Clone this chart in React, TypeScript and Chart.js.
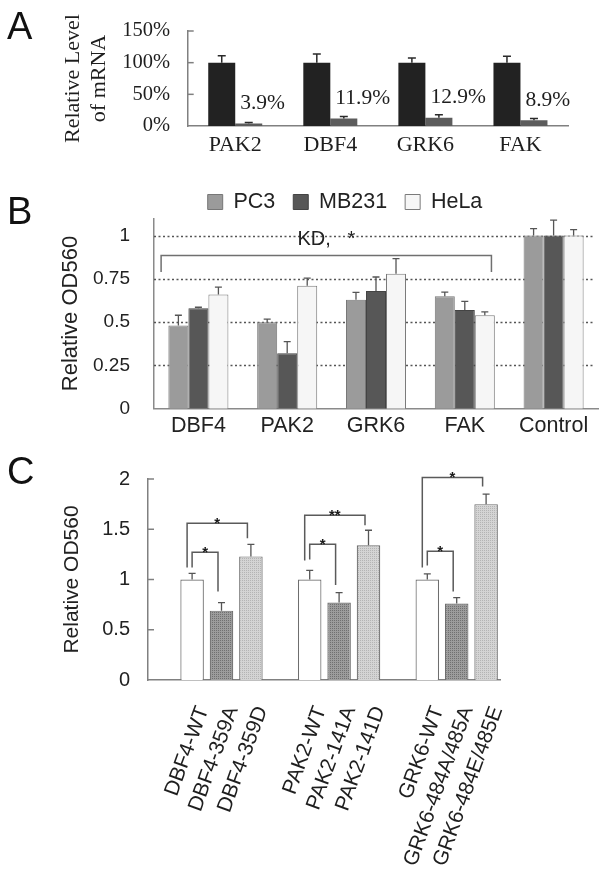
import React, { useEffect, useRef } from 'react';
import { Chart, registerables } from 'chart.js';

Chart.register(...registerables);

const SERIF = "'Liberation Serif', 'Times New Roman', serif";
const SANS = "'Liberation Sans', Arial, sans-serif";

// ---------- Panel A data ----------
const genesA = ['PAK2', 'DBF4', 'GRK6', 'FAK'];
const controlA = [100, 100, 100, 100];
const controlErrA = [11, 13.5, 7.3, 10];
const knockdownA = [3.9, 11.9, 12.9, 8.9];
const knockdownErrA = [1.5, 3, 4.8, 3];
const knockdownTextA = ['3.9%', '11.9%', '12.9%', '8.9%'];
const yTicksA = [0, 50, 100, 150];

// ---------- Panel B data ----------
const categoriesB = ['DBF4', 'PAK2', 'GRK6', 'FAK', 'Control'];
const pc3B = [0.48, 0.5, 0.63, 0.65, 1.0];
const pc3ErrB = [0.06, 0.017, 0.042, 0.023, 0.04];
const mb231B = [0.58, 0.32, 0.68, 0.57, 1.0];
const mb231ErrB = [0.006, 0.067, 0.081, 0.05, 0.09];
const helaB = [0.66, 0.71, 0.78, 0.54, 1.0];
const helaErrB = [0.042, 0.044, 0.087, 0.019, 0.035];
const yTicksB = [0, 0.25, 0.5, 0.75, 1];
const kdBracketB = { from: 'DBF4', to: 'FAK', level: 0.885, end: 0.79, label: 'KD,   *', labelAt: 0.977 };

// ---------- Panel C data ----------
const constructsC = [
  'DBF4-WT', 'DBF4-359A', 'DBF4-359D',
  'PAK2-WT', 'PAK2-141A', 'PAK2-141D',
  'GRK6-WT', 'GRK6-484A/485A', 'GRK6-484E/485E',
];
const valuesC = [1.0, 0.69, 1.23, 1.0, 0.77, 1.34, 1.0, 0.76, 1.75];
const errorsC = [0.06, 0.08, 0.12, 0.09, 0.1, 0.15, 0.055, 0.06, 0.1];
const variantC = ['WT', 'A', 'D', 'WT', 'A', 'D', 'WT', 'A', 'D'];
const yTicksC = [0, 0.5, 1, 1.5, 2];
const bracketsC = [
  { from: 0, to: 1, level: 1.27, leftEnd: 1.12, rightEnd: 0.88, label: '*' },
  { from: 0, to: 2, level: 1.56, leftEnd: 1.12, rightEnd: 1.41, label: '*' },
  { from: 3, to: 4, level: 1.35, leftEnd: 1.2, rightEnd: 0.945, label: '*' },
  { from: 3, to: 5, level: 1.64, leftEnd: 1.19, rightEnd: 1.54, label: '**' },
  { from: 6, to: 7, level: 1.28, leftEnd: 1.14, rightEnd: 0.88, label: '*' },
  { from: 6, to: 8, level: 2.015, leftEnd: 1.12, rightEnd: 1.925, label: '*' },
];

// slots: one empty slot before each group of three
const GROUP = 3;
const slotOf = (i: number) => 1 + i + Math.floor(i / GROUP);

function makeErrorBars(id: string, color: string, width: number, cap: number) {
  return {
    id,
    afterDatasetsDraw(chart: any) {
      const { ctx } = chart;
      const ys = chart.scales.y;
      chart.data.datasets.forEach((ds: any, di: number) => {
        if (!ds.errors) return;
        const meta = chart.getDatasetMeta(di);
        meta.data.forEach((el: any, i: number) => {
          const v = ds.data[i];
          const e = ds.errors[i];
          if (v == null || e == null) return;
          const yTop = ys.getPixelForValue(v + e);
          ctx.save();
          ctx.strokeStyle = color;
          ctx.lineWidth = width;
          ctx.beginPath();
          ctx.moveTo(el.x, el.y);
          ctx.lineTo(el.x, yTop);
          ctx.moveTo(el.x - cap, yTop);
          ctx.lineTo(el.x + cap, yTop);
          ctx.stroke();
          ctx.restore();
        });
      });
    },
  };
}

function makeInnerTicks(id: string, ticks: number[], color: string, len: number) {
  return {
    id,
    afterDraw(chart: any) {
      const { ctx, chartArea } = chart;
      const ys = chart.scales.y;
      ctx.save();
      ctx.strokeStyle = color;
      ctx.lineWidth = 1.5;
      ticks.forEach((v) => {
        if (v === 0) return;
        const py = ys.getPixelForValue(v);
        ctx.beginPath();
        ctx.moveTo(chartArea.left, py);
        ctx.lineTo(chartArea.left + len, py);
        ctx.stroke();
      });
      ctx.restore();
    },
  };
}

function makePattern(c1: string, c2: string) {
  const c = document.createElement('canvas');
  c.width = 4;
  c.height = 4;
  const g = c.getContext('2d') as CanvasRenderingContext2D;
  g.fillStyle = c1;
  g.fillRect(0, 0, 4, 4);
  g.fillStyle = c2;
  g.fillRect(0, 0, 1, 1);
  g.fillRect(2, 2, 1, 1);
  g.fillRect(2, 0, 1, 1);
  g.fillRect(0, 2, 1, 1);
  return g.createPattern(c, 'repeat') as CanvasPattern;
}

export default function App() {
  const refA = useRef<HTMLCanvasElement>(null);
  const refB = useRef<HTMLCanvasElement>(null);
  const refC = useRef<HTMLCanvasElement>(null);

  useEffect(() => {
    const charts: Chart[] = [];

    // ---------------- Panel A ----------------
    const valueLabelsA = {
      id: 'valueLabelsA',
      afterDatasetsDraw(chart: any) {
        const { ctx } = chart;
        const ys = chart.scales.y;
        const meta = chart.getDatasetMeta(1);
        ctx.save();
        ctx.fillStyle = '#1e1e1e';
        ctx.font = `21.5px ${SERIF}`;
        ctx.textAlign = 'left';
        ctx.textBaseline = 'middle';
        meta.data.forEach((el: any, i: number) => {
          const left = el.x - el.width / 2 + 5;
          ctx.fillText(knockdownTextA[i], left, ys.getPixelForValue(knockdownA[i] + 32));
        });
        ctx.restore();
      },
    };

    charts.push(
      new Chart(refA.current as HTMLCanvasElement, {
        type: 'bar',
        data: {
          labels: genesA,
          datasets: [
            {
              label: 'Control',
              data: controlA,
              errors: controlErrA,
              backgroundColor: '#222222',
              borderWidth: 0,
              barPercentage: 1,
              categoryPercentage: 0.568,
            } as any,
            {
              label: 'Knockdown',
              data: knockdownA,
              errors: knockdownErrA,
              backgroundColor: '#5c5c5c',
              borderWidth: 0,
              barPercentage: 1,
              categoryPercentage: 0.568,
            } as any,
          ],
        },
        options: {
          responsive: false,
          animation: false,
          devicePixelRatio: 1,
          events: [],
          layout: { padding: { left: 0, top: 31, right: 36, bottom: 0 } },
          plugins: { legend: { display: false }, tooltip: { enabled: false } },
          scales: {
            x: {
              grid: { display: false, drawTicks: false },
              border: { display: true, color: '#808080', width: 1.5 },
              ticks: { color: '#1e1e1e', font: { family: SERIF, size: 22 }, padding: 6 },
              afterFit: (s: any) => { s.height = 44; },
            },
            y: {
              min: 0,
              max: 150,
              afterBuildTicks: (s: any) => { s.ticks = yTicksA.map((v) => ({ value: v })); },
              grid: { display: false, drawTicks: false },
              border: { display: true, color: '#808080', width: 1.5 },
              ticks: {
                color: '#1e1e1e',
                font: { family: SERIF, size: 20.5 },
                padding: 17.7,
                callback: (v: any) => `${v}%`,
              },
              title: {
                display: true,
                text: ['Relative Level', 'of mRNA'],
                color: '#1e1e1e',
                font: { family: SERIF, size: 22, lineHeight: 26 / 22 },
                padding: { top: 60, bottom: 0 },
              },
              afterFit: (s: any) => { s.width = 187.7; },
            },
          },
        } as any,
        plugins: [
          makeErrorBars('errA', '#2a2a2a', 1.5, 4),
          makeInnerTicks('ticksA', yTicksA, '#808080', 6),
          valueLabelsA,
        ],
      })
    );

    // ---------------- Panel B ----------------
    const legendPlaceB = {
      id: 'legendPlaceB',
      afterLayout(chart: any) {
        const lg = chart.legend;
        if (!lg) return;
        const h = lg.height;
        lg.left = 0;
        lg.right = 690;
        lg.width = 690;
        lg.top = 48.25;
        lg.bottom = 48.25 + h;
      },
    };
    const dottedGridB = {
      id: 'dottedGridB',
      beforeDatasetsDraw(chart: any) {
        const { ctx, chartArea } = chart;
        const ys = chart.scales.y;
        ctx.save();
        ctx.strokeStyle = '#555555';
        ctx.lineWidth = 1.3;
        ctx.setLineDash([2, 2.5]);
        yTicksB.forEach((v) => {
          if (v === 0) return;
          const py = Math.round(ys.getPixelForValue(v)) + 0.5;
          ctx.beginPath();
          ctx.moveTo(chartArea.left, py);
          ctx.lineTo(chartArea.right - 3, py);
          ctx.stroke();
        });
        ctx.restore();
      },
    };
    const bracketB = {
      id: 'bracketB',
      afterDatasetsDraw(chart: any) {
        const { ctx } = chart;
        const xs = chart.scales.x;
        const ys = chart.scales.y;
        const i1 = categoriesB.indexOf(kdBracketB.from);
        const i2 = categoriesB.indexOf(kdBracketB.to);
        const x1 = xs.getPixelForValue(i1 - 0.42);
        const x2 = xs.getPixelForValue(i2 + 0.3);
        const yl = ys.getPixelForValue(kdBracketB.level);
        const ye = ys.getPixelForValue(kdBracketB.end);
        ctx.save();
        ctx.strokeStyle = '#707070';
        ctx.lineWidth = 1.5;
        ctx.beginPath();
        ctx.moveTo(x1, ye);
        ctx.lineTo(x1, yl);
        ctx.lineTo(x2, yl);
        ctx.lineTo(x2, ye);
        ctx.stroke();
        ctx.fillStyle = '#222222';
        ctx.font = `20px ${SANS}`;
        ctx.textAlign = 'center';
        ctx.textBaseline = 'middle';
        ctx.fillText(kdBracketB.label, (x1 + x2) / 2, ys.getPixelForValue(kdBracketB.labelAt));
        ctx.restore();
      },
    };

    const barB = { barPercentage: 1, categoryPercentage: 0.676, borderWidth: 1 };
    charts.push(
      new Chart(refB.current as HTMLCanvasElement, {
        type: 'bar',
        data: {
          labels: categoriesB,
          datasets: [
            { label: 'PC3', data: pc3B, errors: pc3ErrB, backgroundColor: '#9b9b9b', borderColor: '#777777', ...barB } as any,
            { label: 'MB231', data: mb231B, errors: mb231ErrB, backgroundColor: '#575757', borderColor: '#444444', ...barB } as any,
            { label: 'HeLa', data: helaB, errors: helaErrB, backgroundColor: '#f6f6f6', borderColor: '#7a7a7a', ...barB } as any,
          ],
        },
        options: {
          responsive: false,
          animation: false,
          devicePixelRatio: 1,
          events: [],
          layout: { padding: { left: 0, top: 43.8, right: 6, bottom: 0 } },
          plugins: {
            tooltip: { enabled: false },
            legend: {
              display: true,
              position: 'top',
              labels: {
                color: '#222222',
                font: { family: SANS, size: 21.5 },
                boxWidth: 15,
                boxHeight: 15,
                padding: 18,
              },
            },
          },
          scales: {
            x: {
              grid: { display: false, drawTicks: false },
              border: { display: true, color: '#8a8a8a', width: 1.5 },
              ticks: { color: '#222222', font: { family: SANS, size: 21.5 }, padding: 4.2 },
              afterFit: (s: any) => { s.height = 36.3; },
            },
            y: {
              min: 0,
              max: 1.1,
              afterBuildTicks: (s: any) => { s.ticks = yTicksB.map((v) => ({ value: v })); },
              grid: { display: false, drawTicks: false },
              border: { display: true, color: '#8a8a8a', width: 1.5 },
              ticks: {
                color: '#222222',
                font: { family: SANS, size: 19 },
                padding: 24,
                callback: (v: any) => String(v),
              },
              title: {
                display: true,
                text: 'Relative OD560',
                color: '#222222',
                font: { family: SANS, size: 22 },
                padding: { top: 57.8, bottom: 0 },
              },
              afterFit: (s: any) => { s.width = 154; },
            },
          },
        } as any,
        plugins: [legendPlaceB, dottedGridB, makeErrorBars('errB', '#555555', 1.3, 3.5), bracketB],
      })
    );

    // ---------------- Panel C ----------------
    const patA = makePattern('#9c9c9c', '#707070');
    const patD = makePattern('#d4d4d4', '#b4b4b4');
    const nSlots = slotOf(constructsC.length - 1) + 1;
    const slotLabels: string[] = Array(nSlots).fill('');
    const slotValues: (number | null)[] = Array(nSlots).fill(null);
    const slotErrors: (number | null)[] = Array(nSlots).fill(null);
    const slotFills: any[] = Array(nSlots).fill('#ffffff');
    constructsC.forEach((name, i) => {
      const s = slotOf(i);
      slotLabels[s] = name;
      slotValues[s] = valuesC[i];
      slotErrors[s] = errorsC[i];
      slotFills[s] = variantC[i] === 'WT' ? '#ffffff' : variantC[i] === 'A' ? patA : patD;
    });

    const bracketsPluginC = {
      id: 'bracketsC',
      afterDatasetsDraw(chart: any) {
        const { ctx } = chart;
        const xs = chart.scales.x;
        const ys = chart.scales.y;
        ctx.save();
        ctx.strokeStyle = '#5a5a5a';
        ctx.lineWidth = 1.5;
        bracketsC.forEach((b) => {
          const outer = b.to - b.from > 1;
          const x1 = xs.getPixelForValue(slotOf(b.from)) - (outer ? 5 : 0);
          const x2 = xs.getPixelForValue(slotOf(b.to)) - 3.5;
          const yl = ys.getPixelForValue(b.level);
          ctx.beginPath();
          ctx.moveTo(x1, ys.getPixelForValue(b.leftEnd));
          ctx.lineTo(x1, yl);
          ctx.lineTo(x2, yl);
          ctx.lineTo(x2, ys.getPixelForValue(b.rightEnd));
          ctx.stroke();
          ctx.fillStyle = '#1a1a1a';
          ctx.font = `bold 15px ${SANS}`;
          ctx.textAlign = 'center';
          ctx.textBaseline = 'alphabetic';
          ctx.fillText(b.label, (x1 + x2) / 2, yl + 5);
        });
        ctx.restore();
      },
    };

    charts.push(
      new Chart(refC.current as HTMLCanvasElement, {
        type: 'bar',
        data: {
          labels: slotLabels,
          datasets: [
            {
              label: 'OD560',
              data: slotValues,
              errors: slotErrors,
              backgroundColor: slotFills,
              borderColor: '#6e6e6e',
              borderWidth: 1.2,
              barPercentage: 0.8,
              categoryPercentage: 1,
            } as any,
          ],
        },
        options: {
          responsive: false,
          animation: false,
          devicePixelRatio: 1,
          events: [],
          layout: { padding: { left: 0, top: 39, right: 103.2, bottom: 0 } },
          plugins: { legend: { display: false }, tooltip: { enabled: false } },
          scales: {
            x: {
              grid: { display: false, drawTicks: false },
              border: { display: true, color: '#808080', width: 1.5 },
              ticks: {
                autoSkip: false,
                minRotation: 70,
                maxRotation: 70,
                labelOffset: 11,
                padding: 23,
                color: '#1e1e1e',
                font: { family: SANS, size: 21 },
              },
              afterFit: (s: any) => { s.height = 195; },
            },
            y: {
              min: 0,
              max: 2,
              afterBuildTicks: (s: any) => { s.ticks = yTicksC.map((v) => ({ value: v })); },
              grid: { display: false, drawTicks: false },
              border: { display: true, color: '#808080', width: 1.5 },
              ticks: {
                color: '#222222',
                font: { family: SANS, size: 20 },
                padding: 18,
                callback: (v: any) => String(v),
              },
              title: {
                display: true,
                text: 'Relative OD560',
                color: '#222222',
                font: { family: SANS, size: 21 },
                padding: { top: 59.4, bottom: 0 },
              },
              afterFit: (s: any) => { s.width = 148; },
            },
          },
        } as any,
        plugins: [
          makeErrorBars('errC', '#555555', 1.3, 3.5),
          makeInnerTicks('ticksC', yTicksC, '#808080', 6),
          bracketsPluginC,
        ],
      })
    );

    return () => {
      charts.forEach((c) => c.destroy());
    };
  }, []);

  const letter: React.CSSProperties = {
    position: 'absolute',
    left: 7,
    fontFamily: SANS,
    fontSize: 38,
    lineHeight: '38px',
    color: '#111',
  };

  return (
    <div
      style={{
        position: 'absolute',
        left: 0,
        top: 0,
        width: 604,
        height: 875,
        background: '#ffffff',
        overflow: 'hidden',
      }}
    >
      <canvas
        ref={refA}
        width={604}
        height={170}
        style={{ position: 'absolute', left: 0, top: 0, width: 604, height: 170 }}
      />
      <canvas
        ref={refB}
        width={604}
        height={320}
        style={{ position: 'absolute', left: 0, top: 125, width: 604, height: 320 }}
      />
      <canvas
        ref={refC}
        width={604}
        height={435}
        style={{ position: 'absolute', left: 0, top: 440, width: 604, height: 435 }}
      />
      <div style={{ ...letter, top: 7 }}>A</div>
      <div style={{ ...letter, top: 192 }}>B</div>
      <div style={{ ...letter, top: 452 }}>C</div>
    </div>
  );
}
